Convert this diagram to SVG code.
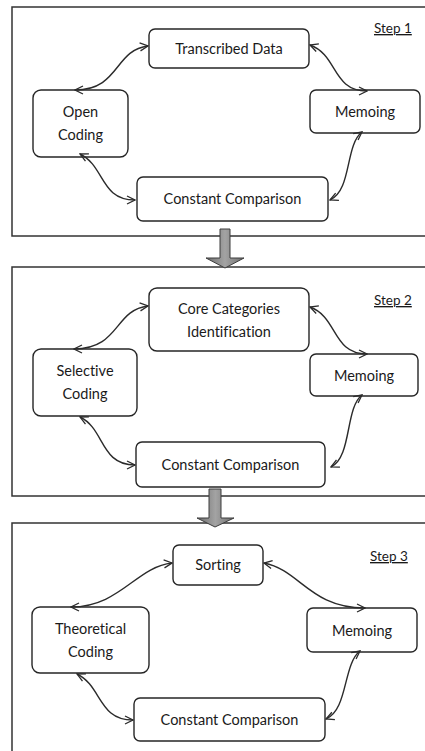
<svg xmlns="http://www.w3.org/2000/svg" width="425" height="751" viewBox="0 0 425 751">
  <style>
    .node rect { fill: #ffffff; stroke: #262626; stroke-width: 1.4; }
    .node text { font-family: Lato, "Liberation Sans", sans-serif; font-size: 14.5px; fill: #1a1a1a; text-anchor: middle; font-variant-ligatures: none; }
    .panel { fill: #ffffff; stroke: #333333; stroke-width: 1.5; }
    .step { font-family: Lato, "Liberation Sans", sans-serif; font-size: 13.5px; fill: #1a1a1a; text-decoration: underline; }
    .link { fill: none; stroke: #2b2b2b; stroke-width: 1.4; marker-start: url(#vhead); marker-end: url(#vhead); }
    .flow { fill: url(#grayFill); stroke: #3c3c3c; stroke-width: 1; }
  </style>
  <defs>
    <marker id="vhead" viewBox="0 0 10 10" refX="9" refY="5" markerWidth="10" markerHeight="10" markerUnits="userSpaceOnUse" orient="auto-start-reverse">
      <path d="M1,1 L9,5 L1,9" fill="none" stroke="#2b2b2b" stroke-width="1.3"/>
    </marker>
    <linearGradient id="grayFill" x1="0" y1="0" x2="1" y2="0">
      <stop offset="0" stop-color="#6e6e6e"/>
      <stop offset="0.5" stop-color="#a3a3a3"/>
      <stop offset="1" stop-color="#6e6e6e"/>
    </linearGradient>
  </defs>

  <!-- step frames -->
  <rect class="panel" x="12" y="7" width="425" height="229"/>
  <rect class="panel" x="12" y="267" width="425" height="229"/>
  <rect class="panel" x="12" y="523" width="425" height="240"/>

  <text class="step" x="374" y="33">Step 1</text>
  <text class="step" x="374" y="305">Step 2</text>
  <text class="step" x="370" y="561">Step 3</text>

  <!-- transitions between steps -->
  <g id="flow-arrows">
    <polygon class="flow" points="220,229 230,229 230,258 244,258 225,268 206,258 220,258"/>
    <polygon class="flow" points="209,489 221,489 221,518 234,518 215,527 197,518 209,518"/>
  </g>

  <!-- step 1 nodes -->
  <g id="s1-transcribed" class="node">
    <rect x="149" y="29" width="160" height="39" rx="6"/>
    <text x="229" y="54">Transcribed Data</text>
  </g>
  <g id="s1-memoing" class="node">
    <rect x="310" y="90" width="110" height="43" rx="6"/>
    <text x="365" y="117">Memoing</text>
  </g>
  <g id="s1-open-coding" class="node">
    <rect x="33" y="90" width="95" height="67" rx="8"/>
    <text x="80.5" y="117">Open</text>
    <text x="80.5" y="140">Coding</text>
  </g>
  <g id="s1-comparison" class="node">
    <rect x="137" y="177" width="191" height="44" rx="6"/>
    <text x="232.5" y="204">Constant Comparison</text>
  </g>

  <!-- step 2 nodes -->
  <g id="s2-core" class="node">
    <rect x="149" y="288" width="160" height="63" rx="8"/>
    <text x="229" y="314">Core Categories</text>
    <text x="229" y="337">Identification</text>
  </g>
  <g id="s2-memoing" class="node">
    <rect x="310" y="354" width="108" height="42" rx="6"/>
    <text x="364" y="381">Memoing</text>
  </g>
  <g id="s2-selective" class="node">
    <rect x="33" y="349" width="104" height="67" rx="8"/>
    <text x="85" y="376">Selective</text>
    <text x="85" y="399">Coding</text>
  </g>
  <g id="s2-comparison" class="node">
    <rect x="136" y="442" width="189" height="45" rx="6"/>
    <text x="230.5" y="470">Constant Comparison</text>
  </g>

  <!-- step 3 nodes -->
  <g id="s3-sorting" class="node">
    <rect x="173" y="545" width="90" height="40" rx="6"/>
    <text x="218" y="570">Sorting</text>
  </g>
  <g id="s3-memoing" class="node">
    <rect x="307" y="608" width="110" height="44" rx="6"/>
    <text x="362" y="636">Memoing</text>
  </g>
  <g id="s3-theoretical" class="node">
    <rect x="32" y="607" width="117" height="66" rx="8"/>
    <text x="90.5" y="634">Theoretical</text>
    <text x="90.5" y="657">Coding</text>
  </g>
  <g id="s3-comparison" class="node">
    <rect x="134" y="698" width="191" height="43" rx="6"/>
    <text x="229.5" y="725">Constant Comparison</text>
  </g>

  <!-- two-way links -->
  <g id="connectors">
    <path class="link" d="M148,46 C114,50 120,90 75,90"/>
    <path class="link" d="M310,45 C338,55 332,91 367,91"/>
    <path class="link" d="M362,132 C345,145 352,190 330,200"/>
    <path class="link" d="M80,154 C105,166 100,200 135,200"/>

    <path class="link" d="M148,306 C114,310 120,349 74,349"/>
    <path class="link" d="M310,307 C338,317 332,354 367,354"/>
    <path class="link" d="M362,395 C345,408 352,457 331,467"/>
    <path class="link" d="M80,417 C105,429 100,465 135,465"/>

    <path class="link" d="M172,563 C136,567 120,607 71,607"/>
    <path class="link" d="M264,563 C300,570 310,608 365,608"/>
    <path class="link" d="M360,651 C343,664 348,710 326,719"/>
    <path class="link" d="M77,674 C102,686 98,720 133,720"/>
  </g>
</svg>
